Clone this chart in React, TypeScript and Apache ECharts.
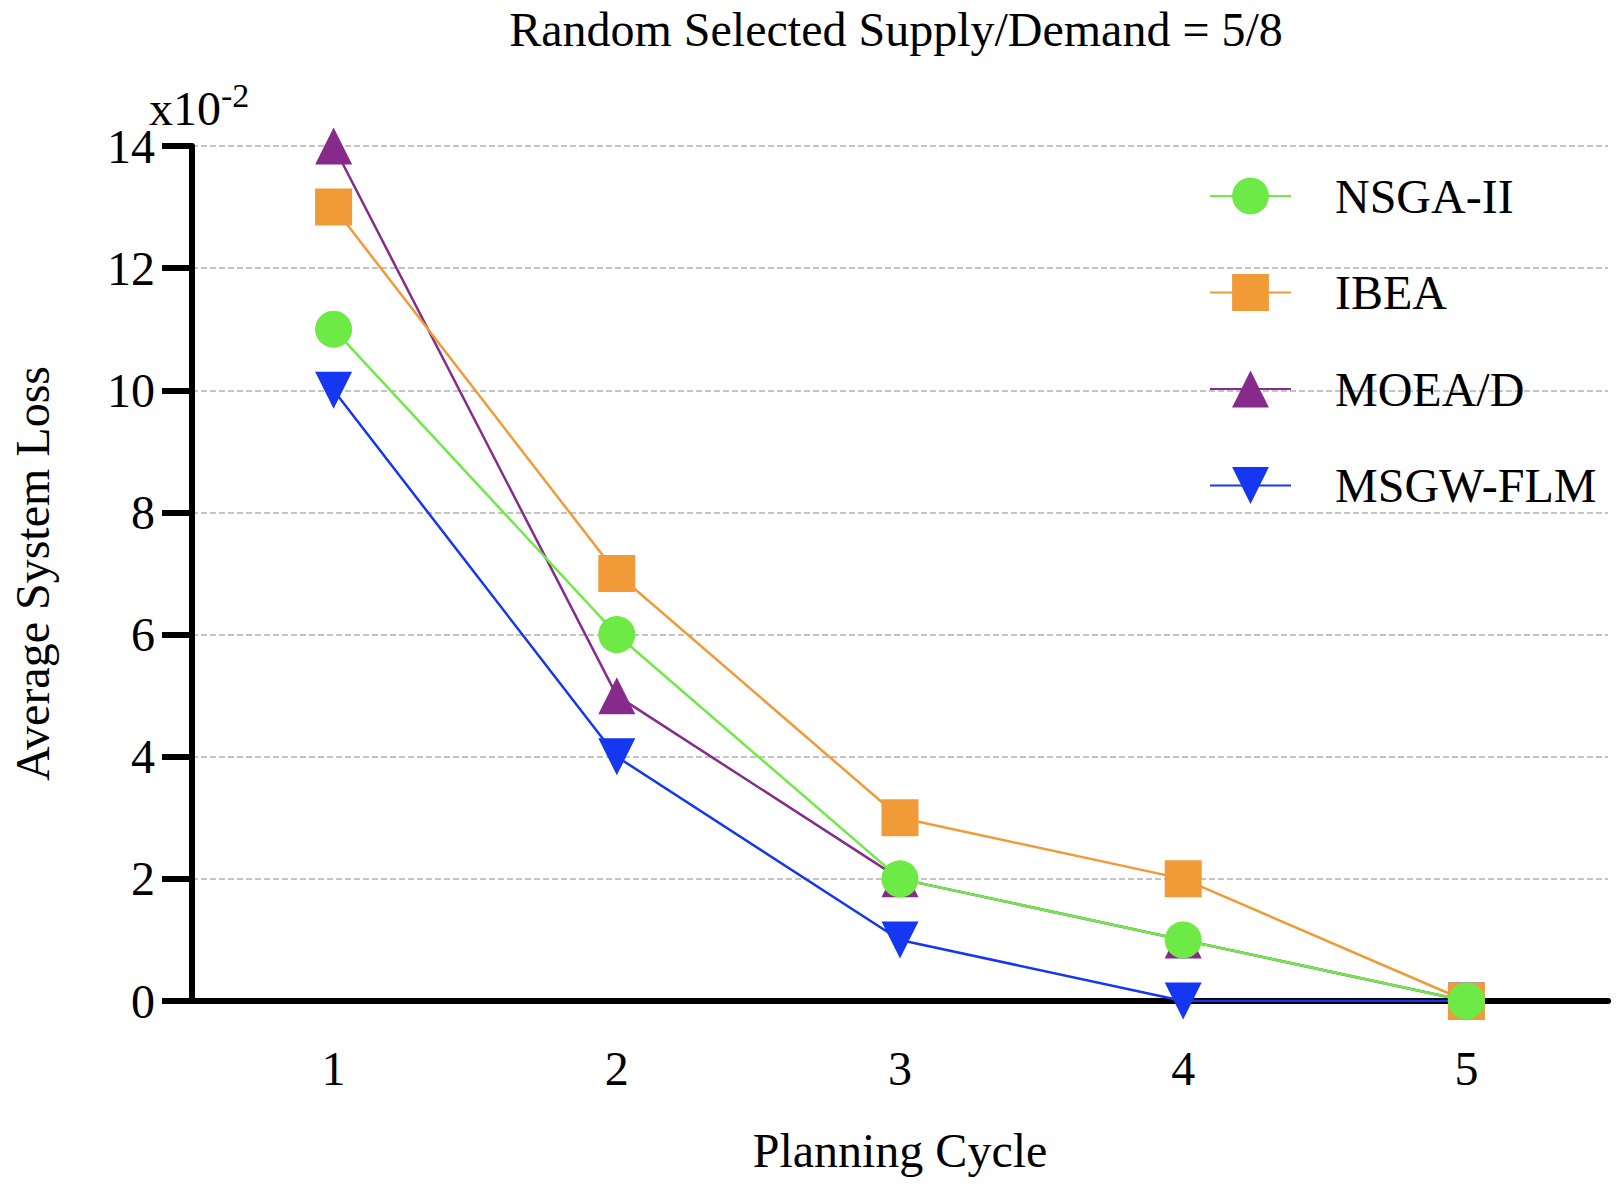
import React, { useEffect, useRef } from "react";
import * as echarts from "echarts";

const categories = ["1", "2", "3", "4", "5"];
const seriesNames = ["NSGA-II", "IBEA", "MOEA/D", "MSGW-FLM"];
const nsga = [11, 6, 2, 1, 0];
const ibea = [13, 7, 3, 2, 0];
const moead = [14, 5, 2, 1, 0];
const msgw = [10, 4, 1, 0, 0];
const yTicks = { min: 0, max: 14, interval: 2 };

const FONT = "Liberation Serif";

export default function App() {
  const ref = useRef<HTMLDivElement>(null);
  useEffect(() => {
    const chart = echarts.init(ref.current!, null, { renderer: "svg" });
    const mk = (name: string, data: number[], color: string, symbol: string, z: number, rotate = 0) => ({
      name,
      type: "line",
      data,
      symbol,
      symbolSize: 37,
      symbolRotate: rotate,
      z,
      lineStyle: { color, width: 2.5 },
      itemStyle: { color, opacity: 1 },
      emphasis: { disabled: true },
    });
    chart.setOption({
      animation: false,
      title: {
        text: "Random Selected Supply/Demand = 5/8",
        left: 891,
        textAlign: "center",
        top: 0,
        textStyle: { fontFamily: FONT, fontSize: 48, fontWeight: "normal", color: "#000" },
      },
      grid: { left: 172, right: 12, top: 146, bottom: 185, containLabel: false },
      legend: {
        orient: "vertical",
        left: 1204,
        top: 167,
        itemWidth: 81,
        itemHeight: 46,
        itemGap: 48.5,
        data: seriesNames,
        textStyle: { fontFamily: FONT, fontSize: 48, color: "#000", lineHeight: 46, padding: [0, 0, 0, 39] },
      },
      xAxis: {
        type: "category",
        data: categories,
        boundaryGap: true,
        name: "Planning Cycle",
        nameLocation: "middle",
        nameGap: 125,
        nameTextStyle: { fontFamily: FONT, fontSize: 48, color: "#000" },
        axisLine: { lineStyle: { color: "#000", width: 6 } },
        axisTick: { alignWithLabel: true, length: 30, lineStyle: { color: "#000", width: 6 } },
        axisLabel: { fontFamily: FONT, fontSize: 48, color: "#000", margin: 43 },
      },
      yAxis: {
        type: "value",
        min: yTicks.min,
        max: yTicks.max,
        interval: yTicks.interval,
        name: "Average System Loss",
        nameLocation: "middle",
        nameGap: 136,
        nameTextStyle: { fontFamily: FONT, fontSize: 48, color: "#000" },
        axisLine: { show: true, lineStyle: { color: "#000", width: 6 } },
        axisTick: { show: true, length: 30, lineStyle: { color: "#000", width: 6 } },
        axisLabel: { fontFamily: FONT, fontSize: 48, color: "#000", margin: 37 },
        splitLine: { show: true, lineStyle: { color: "#c4c4c4", width: 2, type: [6, 3] } },
      },
      graphic: [
        {
          type: "text",
          left: 149,
          top: 84,
          style: { text: "x10", font: `48px "${FONT}"`, fill: "#000" },
        },
        {
          type: "text",
          left: 221,
          top: 78,
          style: { text: "-2", font: `34px "${FONT}"`, fill: "#000" },
        },
      ],
      series: [
        mk("MSGW-FLM", msgw, "#1537F2", "triangle", 2, 180),
        mk("MOEA/D", moead, "#862B8B", "triangle", 3),
        mk("IBEA", ibea, "#F09A38", "rect", 4),
        mk("NSGA-II", nsga, "#6EEA46", "circle", 5),
      ],
    });
    return () => chart.dispose();
  }, []);
  return (
    <div
      ref={ref}
      style={{ position: "fixed", left: 0, top: 0, width: 1620, height: 1186, background: "#fff" }}
    />
  );
}
